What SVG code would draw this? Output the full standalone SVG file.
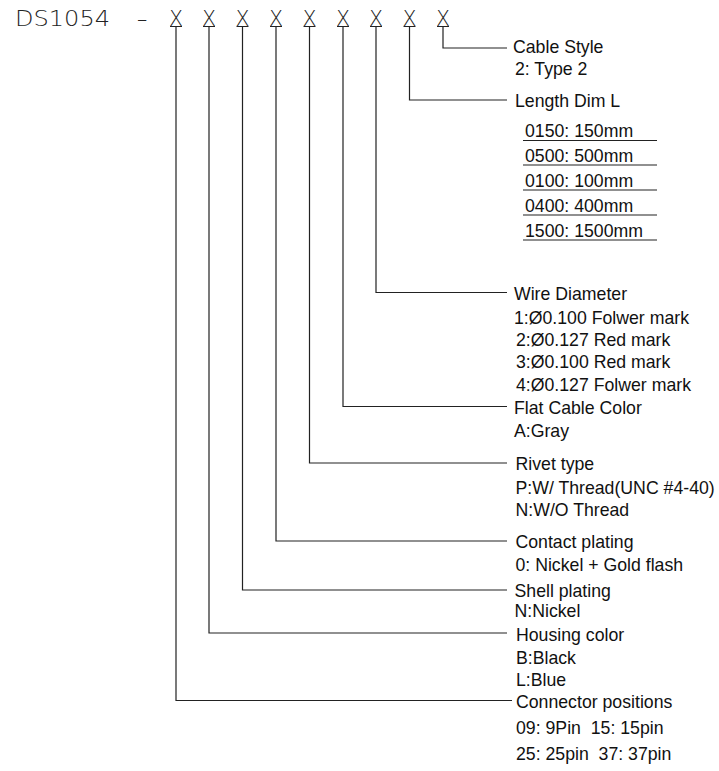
<svg xmlns="http://www.w3.org/2000/svg" width="719" height="771" viewBox="0 0 719 771">
<style>
.code{font-family:"DejaVu Sans","Liberation Sans",sans-serif;font-weight:200;font-size:20.5px;fill:#222}
.x{text-anchor:middle}
.t{font-family:"Liberation Sans",Arial,sans-serif;font-size:17.7px;fill:#111}
.c{fill:none;stroke:#222;stroke-width:1.2}
.u{stroke:#222;stroke-width:1.2}
</style>
<rect width="719" height="771" fill="#fff"/>
<g id="code">
<text class="code" x="15" y="25.5" textLength="95" lengthAdjust="spacingAndGlyphs">DS1054</text>
<text class="code x" x="142" y="25.5">–</text>
<text class="code x" x="176" y="25.5">X</text>
<text class="code x" x="209" y="25.5">X</text>
<text class="code x" x="242.5" y="25.5">X</text>
<text class="code x" x="276" y="25.5">X</text>
<text class="code x" x="309.5" y="25.5">X</text>
<text class="code x" x="343" y="25.5">X</text>
<text class="code x" x="376" y="25.5">X</text>
<text class="code x" x="409.5" y="25.5">X</text>
<text class="code x" x="443" y="25.5">X</text>
</g>
<g id="connectors">
<path class="c" d="M170 26.5H182M176 26.5V700.5H512"/>
<path class="c" d="M203 26.5H215M209 26.5V633H507"/>
<path class="c" d="M236.5 26.5H248.5M242.5 26.5V590H507"/>
<path class="c" d="M270 26.5H282M276 26.5V541H507"/>
<path class="c" d="M303.5 26.5H315.5M309.5 26.5V463H507"/>
<path class="c" d="M337 26.5H349M343 26.5V406.5H507"/>
<path class="c" d="M370 26.5H382M376 26.5V292.5H507"/>
<path class="c" d="M403.5 26.5H415.5M409.5 26.5V100H507"/>
<path class="c" d="M437 26.5H449M443 26.5V48H507"/>
</g>
<g id="cable-style">
<text class="t" x="513" y="53">Cable Style</text>
<text class="t" x="515" y="74.5">2: Type 2</text>
</g>
<g id="length-dim">
<text class="t" x="515" y="107">Length Dim L</text>
<text class="t" x="525" y="137">0150: 150mm</text>
<text class="t" x="525" y="162">0500: 500mm</text>
<text class="t" x="525" y="187">0100: 100mm</text>
<text class="t" x="525" y="212">0400: 400mm</text>
<text class="t" x="525" y="237">1500: 1500mm</text>
<path class="u" d="M523 140.5H657M523 165H657M523 190H657M523 215H657M523 240H657"/>
</g>
<g id="wire-diameter">
<text class="t" x="514" y="299.5">Wire Diameter</text>
<text class="t" x="514" y="324">1:Ø0.100 Folwer mark</text>
<text class="t" x="516" y="345.5">2:Ø0.127 Red mark</text>
<text class="t" x="516" y="368">3:Ø0.100 Red mark</text>
<text class="t" x="516" y="390.5">4:Ø0.127 Folwer mark</text>
</g>
<g id="flat-cable-color">
<text class="t" x="514" y="413.5">Flat Cable Color</text>
<text class="t" x="514" y="437">A:Gray</text>
</g>
<g id="rivet-type">
<text class="t" x="515.5" y="469.5">Rivet type</text>
<text class="t" x="515.5" y="494">P:W/ Thread(UNC #4-40)</text>
<text class="t" x="515.5" y="516">N:W/O Thread</text>
</g>
<g id="contact-plating">
<text class="t" x="515.5" y="548">Contact plating</text>
<text class="t" x="515.5" y="570.5">0: Nickel + Gold flash</text>
</g>
<g id="shell-plating">
<text class="t" x="514.5" y="597">Shell plating</text>
<text class="t" x="514.5" y="617">N:Nickel</text>
</g>
<g id="housing-color">
<text class="t" x="516" y="640.5">Housing color</text>
<text class="t" x="516" y="663.5">B:Black</text>
<text class="t" x="516" y="686">L:Blue</text>
</g>
<g id="connector-positions">
<text class="t" x="516" y="707.5">Connector positions</text>
<text class="t" x="516" y="734" xml:space="preserve">09: 9Pin  15: 15pin</text>
<text class="t" x="516" y="759.5" xml:space="preserve">25: 25pin  37: 37pin</text>
</g>
</svg>
